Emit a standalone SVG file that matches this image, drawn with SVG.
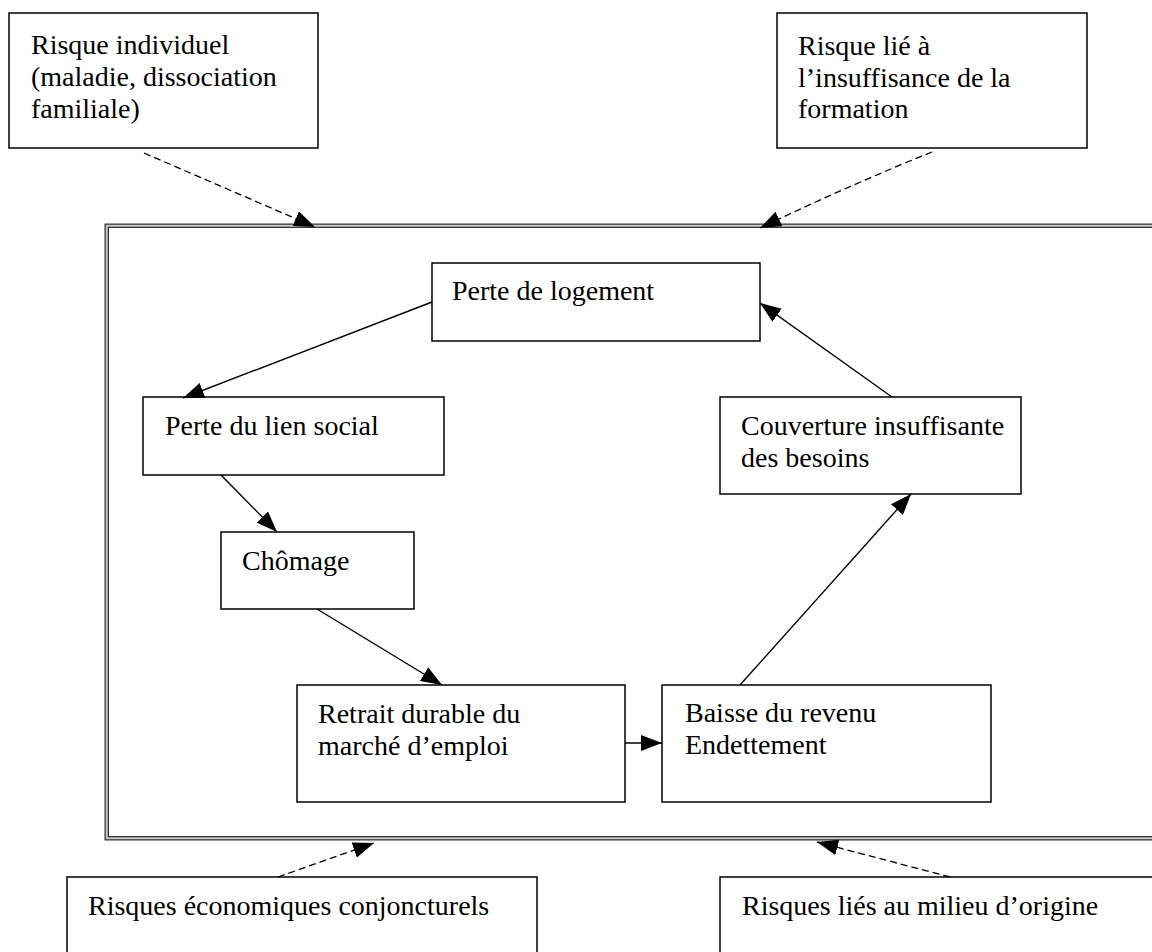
<svg xmlns="http://www.w3.org/2000/svg" width="1152" height="952" viewBox="0 0 1152 952">
<style>
.box{fill:#fff;stroke:#000;stroke-width:1.5}
.t{font-family:"Liberation Serif","Times New Roman",serif;font-size:28px;fill:#000}
.solid{fill:none;stroke:#000;stroke-width:1.4}
.dash{fill:none;stroke:#000;stroke-width:1.3;stroke-dasharray:7 4}
</style>
<defs>
<marker id="ah" markerUnits="userSpaceOnUse" markerWidth="22" markerHeight="16" refX="21" refY="8" orient="auto">
<path d="M0,0 L21,8 L0,16 z" fill="#000"/>
</marker>
</defs>
<rect width="1152" height="952" fill="#fff"/>
<g id="frame">
<rect x="106.75" y="225.75" width="1100" height="612.5" fill="none" stroke="#333" stroke-width="4.5"/>
<rect x="106.75" y="225.75" width="1100" height="612.5" fill="none" stroke="#c8c8c8" stroke-width="2"/>
</g>
<g id="risque-individuel">
<rect class="box" x="9" y="13" width="309" height="135"/>
<text class="t" x="31" y="54">Risque individuel</text>
<text class="t" x="31" y="86">(maladie, dissociation</text>
<text class="t" x="31" y="118">familiale)</text>
</g>
<g id="risque-formation">
<rect class="box" x="777" y="13" width="310" height="135"/>
<text class="t" x="798" y="55">Risque lié à</text>
<text class="t" x="798" y="87">l’insuffisance de la</text>
<text class="t" x="798" y="118">formation</text>
</g>
<g id="perte-logement">
<rect class="box" x="432" y="263" width="328" height="78"/>
<text class="t" x="452" y="300">Perte de logement</text>
</g>
<g id="perte-lien">
<rect class="box" x="143" y="397" width="301" height="78"/>
<text class="t" x="165" y="435">Perte du lien social</text>
</g>
<g id="chomage">
<rect class="box" x="221" y="532" width="193" height="77"/>
<text class="t" x="242" y="570">Chômage</text>
</g>
<g id="retrait">
<rect class="box" x="297" y="685" width="328" height="117"/>
<text class="t" x="318" y="723">Retrait durable du</text>
<text class="t" x="318" y="755">marché d’emploi</text>
</g>
<g id="baisse">
<rect class="box" x="662" y="685" width="329" height="117"/>
<text class="t" x="685" y="722">Baisse du revenu</text>
<text class="t" x="685" y="754">Endettement</text>
</g>
<g id="couverture">
<rect class="box" x="720" y="397" width="301" height="97"/>
<text class="t" x="741" y="435">Couverture insuffisante</text>
<text class="t" x="741" y="467">des besoins</text>
</g>
<g id="risques-economiques">
<rect class="box" x="67" y="877" width="470" height="90"/>
<text class="t" x="88" y="915">Risques économiques conjoncturels</text>
</g>
<g id="risques-milieu">
<rect class="box" x="720" y="877" width="450" height="90"/>
<text class="t" x="742" y="915">Risques liés au milieu d’origine</text>
</g>
<g id="connectors">
<line class="solid" x1="432" y1="302" x2="183" y2="398" marker-end="url(#ah)"/>
<line class="solid" x1="221" y1="475" x2="277" y2="532" marker-end="url(#ah)"/>
<line class="solid" x1="317" y1="609" x2="442" y2="685" marker-end="url(#ah)"/>
<line class="solid" x1="625" y1="743" x2="662" y2="743" marker-end="url(#ah)"/>
<line class="solid" x1="740" y1="685" x2="911" y2="494" marker-end="url(#ah)"/>
<line class="solid" x1="892" y1="397" x2="760" y2="303" marker-end="url(#ah)"/>
<line class="dash" x1="144" y1="153" x2="315" y2="227" marker-end="url(#ah)"/>
<path class="dash" d="M932,152 Q850,185 760,228" marker-end="url(#ah)"/>
<line class="dash" x1="278" y1="877" x2="374" y2="843" marker-end="url(#ah)"/>
<line class="dash" x1="950" y1="877" x2="817" y2="842" marker-end="url(#ah)"/>
</g>
</svg>
